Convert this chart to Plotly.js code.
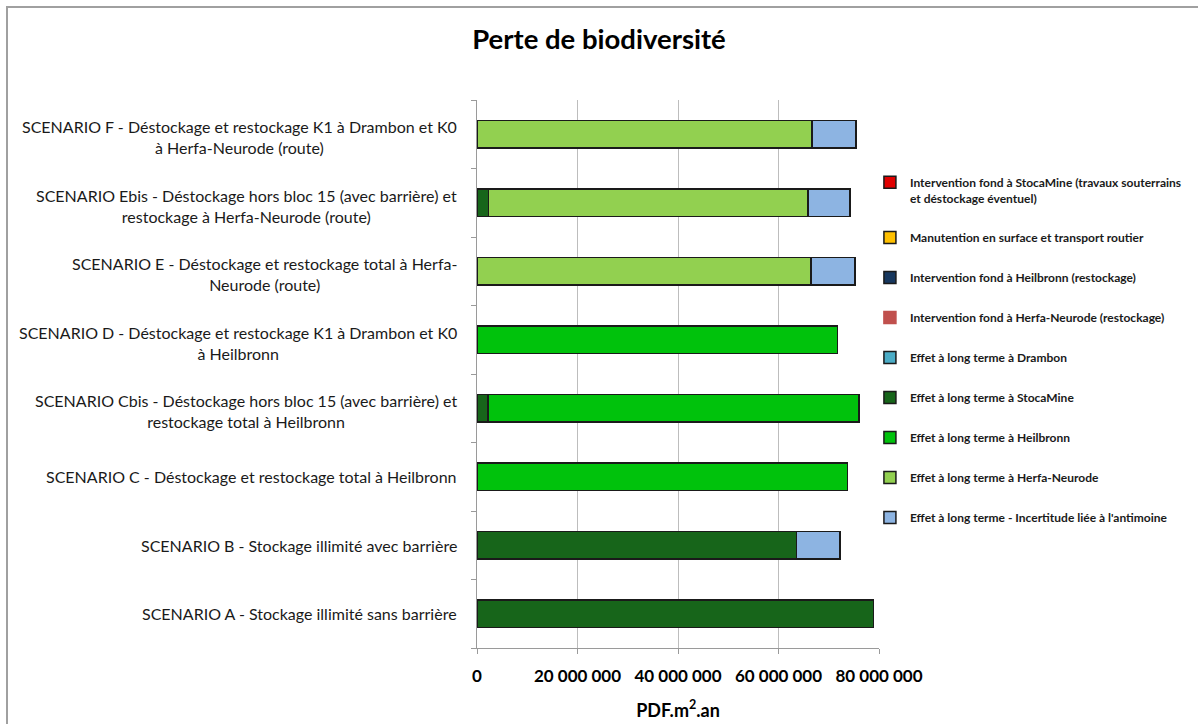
<!DOCTYPE html>
<html>
<head>
<meta charset="utf-8">
<script src="https://cdn.plot.ly/plotly-3.0.1.min.js"></script>
<style>
html,body{margin:0;padding:0;background:#fff;}
#wrap{position:relative;width:1198px;height:724px;overflow:hidden;}
#chart{width:1198px;height:724px;}
#frame{position:absolute;left:6px;top:6px;width:1250px;height:800px;border:2px solid #a0a0a0;box-sizing:border-box;pointer-events:none;}
</style>
</head>
<body>
<div id="wrap"><div id="chart"></div><div id="frame"></div></div>
<script>
// Categories (bottom to top)
const categories = ["A","B","C","Cbis","D","E","Ebis","F"];
const categoryLabels = [
  "SCENARIO A - Stockage illimité sans barrière",
  "SCENARIO B - Stockage illimité avec barrière",
  "SCENARIO C - Déstockage et restockage total à Heilbronn",
  "SCENARIO Cbis - Déstockage hors bloc 15 (avec barrière) et<br>restockage total à Heilbronn",
  "SCENARIO D - Déstockage et restockage K1 à Drambon et K0<br>à Heilbronn",
  "SCENARIO E - Déstockage et restockage total à Herfa-<br>Neurode (route)",
  "SCENARIO Ebis - Déstockage hors bloc 15 (avec barrière) et<br>restockage à Herfa-Neurode (route)",
  "SCENARIO F - Déstockage et restockage K1 à Drambon et K0<br>à Herfa-Neurode (route)"
];
// Series values (PDF.m².an), order A..F
const interventionStocaMine = [0,0,0,0,0,0,0,0];
const manutentionTransport   = [0,0,0,0,0,0,0,0];
const interventionHeilbronn  = [0,0,0,0,0,0,0,0];
const interventionHerfa      = [0,0,0,0,0,0,0,0];
const effetDrambon           = [0,0,0,0,0,0,0,0];
const effetStocaMine         = [78.9e6,63.6e6,0,2.2e6,0,0,2.3e6,0];
const effetHeilbronn         = [0,0,73.7e6,73.8e6,71.7e6,0,0,0];
const effetHerfa             = [0,0,0,0,0,66.5e6,63.6e6,66.7e6];
const incertitudeAntimoine   = [0,8.6e6,0,0,0,8.7e6,8.3e6,8.7e6];

const seriesNames = [
  "Intervention fond à StocaMine (travaux souterrains<br>et déstockage éventuel)",
  "Manutention en surface et transport routier",
  "Intervention fond à Heilbronn (restockage)",
  "Intervention fond à Herfa-Neurode (restockage)",
  "Effet à long terme à Drambon",
  "Effet à long terme à StocaMine",
  "Effet à long terme à Heilbronn",
  "Effet à long terme à Herfa-Neurode",
  "Effet à long terme - Incertitude liée à l'antimoine"
];
const seriesValues = [interventionStocaMine, manutentionTransport, interventionHeilbronn, interventionHerfa,
  effetDrambon, effetStocaMine, effetHeilbronn, effetHerfa, incertitudeAntimoine];
const seriesColors = ["#e00000","#ffc000","#17375e","#c0504d","#4bacc6","#17651a","#00c20c","#92d050","#8db4e2"];
const xTickVals = [0,20e6,40e6,60e6,80e6];
const xTickText = ["0","20 000 000","40 000 000","60 000 000","80 000 000"];

const FONT = "Lato, 'Open Sans', sans-serif";

const traces = seriesValues.map((vals,i)=>({
  type:"bar", orientation:"h", name:seriesNames[i],
  y:categories, x:vals, legendgroup:"g"+i,
  marker:{color:seriesColors[i], line:{color:(i===3?seriesColors[i]:"#1a1a1a"), width:1.5}},
  hoverinfo:"x+name"
}));

const annotations = categories.map((c,i)=>({
  xref:"paper", yref:"y", x:0, y:c, xanchor:"right", yanchor:"middle", xshift:-18,
  yshift:(categoryLabels[i].indexOf("<br>")>=0 ? -3 : 0),
  text:categoryLabels[i], showarrow:false, align:"center",
  font:{family:FONT, size:16, color:"#1a1a1a"}
}));

const layout = {
  width:1198, height:724,
  margin:{l:477, r:318, t:100, b:76},
  paper_bgcolor:"#ffffff", plot_bgcolor:"#ffffff",
  barmode:"stack", bargap:0.6,
  title:{text:"Perte de biodiversité", x:0.5, xref:"container", xanchor:"center", y:0.945, yref:"container", yanchor:"middle",
         font:{family:FONT, size:27.5, weight:"bold", color:"#000"}},
  font:{family:FONT, color:"#000"},
  xaxis:{range:[0,80e6], tickvals:xTickVals, ticktext:xTickText,
    showgrid:true, gridcolor:"#bdbdbd", gridwidth:1,
    showline:true, linecolor:"#9a9a9a", linewidth:1,
    ticks:"outside", ticklen:5, tickcolor:"#9a9a9a", ticklabelstandoff:8,
    tickfont:{family:FONT, size:17, weight:"bold", color:"#000"},
    zeroline:false, fixedrange:true,
    title:{text:"PDF.m<sup>2</sup>.an", standoff:18, font:{family:FONT, size:18, weight:"bold", color:"#000"}}},
  yaxis:{type:"category", categoryorder:"array", categoryarray:categories, range:[-0.5,7.5],
    showticklabels:false, showgrid:false, showline:true, linecolor:"#9a9a9a", linewidth:1,
    ticks:"outside", tickson:"boundaries", ticklen:5, tickcolor:"#9a9a9a", zeroline:false, fixedrange:true},
  legend:{x:0.975, xanchor:"left", y:0.876, yanchor:"top", traceorder:"grouped", tracegroupgap:21, valign:"top",
    font:{family:FONT, size:12, weight:"bold", color:"#1a1a1a"},
    itemwidth:30, bgcolor:"rgba(0,0,0,0)"},
  annotations:annotations,
  showlegend:true
};

Plotly.newPlot("chart", traces, layout, {displayModeBar:false});
</script>
</body>
</html>
